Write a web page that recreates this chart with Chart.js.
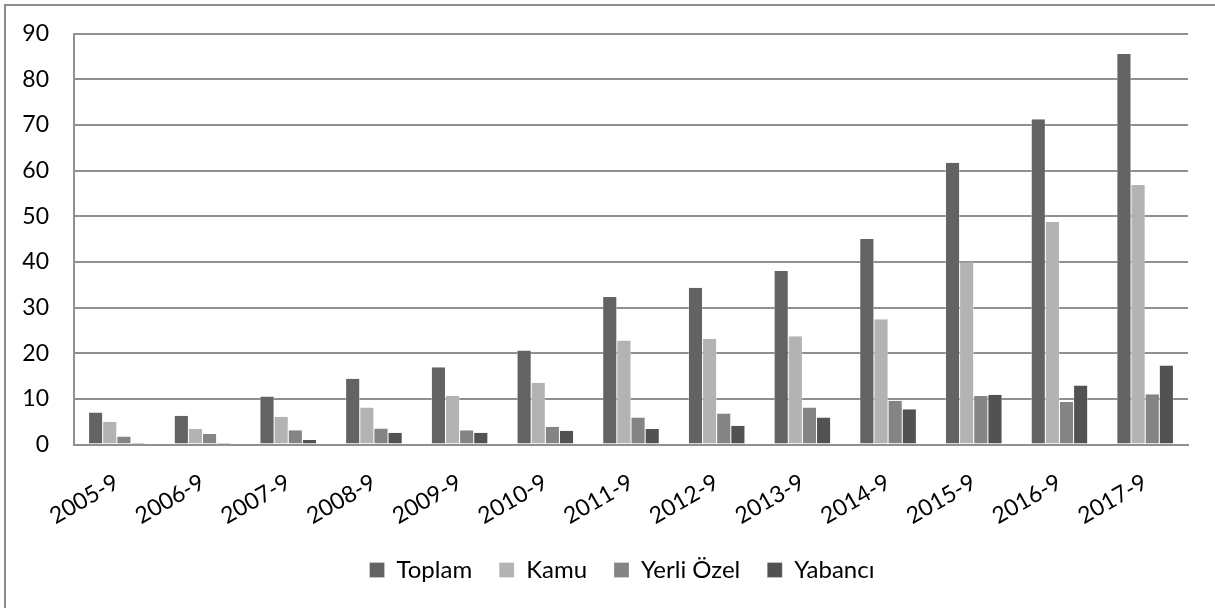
<!DOCTYPE html>
<html>
<head>
<meta charset="utf-8">
<script src="https://cdn.jsdelivr.net/npm/chart.js@4.4.1/dist/chart.umd.min.js"></script>
<style>
  html, body { margin: 0; padding: 0; background: #ffffff; overflow: hidden; }
  #frame {
    position: absolute;
    left: 4px; top: 4px;
    width: 1240px; height: 640px;
    border: 2px solid #8c8c8c;
    box-sizing: border-box;
  }
  #chart { display: block; }
</style>
</head>
<body>
<div id="frame"><canvas id="chart" width="1209" height="602"></canvas></div>
<script>
// Years (September of each year)
const periods = ['2005-9', '2006-9', '2007-9', '2008-9', '2009-9', '2010-9', '2011-9',
  '2012-9', '2013-9', '2014-9', '2015-9', '2016-9', '2017-9'];

const toplam    = [7.0, 6.3, 10.5, 14.4, 16.9, 20.6, 32.3, 34.3, 38.0, 45.0, 61.7, 71.2, 85.5];
const kamu      = [5.0, 3.4, 6.1, 8.1, 10.7, 13.5, 22.8, 23.1, 23.7, 27.4, 39.9, 48.7, 56.8];
const yerliOzel = [1.75, 2.3, 3.1, 3.5, 3.1, 3.9, 5.9, 6.8, 8.1, 9.6, 10.6, 9.3, 11.0];
const yabanci   = [0.1, 0.35, 1.0, 2.6, 2.6, 3.0, 3.4, 4.1, 5.9, 7.7, 10.9, 12.9, 17.3];

const yTicks = [0, 10, 20, 30, 40, 50, 60, 70, 80, 90];

// Grey palette
const colors = {
  toplam: '#636363',
  kamu: '#b3b3b3',
  yerli: '#848484',
  yabanci: '#525252',
  grid: '#909090',
  text: '#000000'
};

const fontFamily = "Lato, 'Open Sans', sans-serif";

function series(label, data, color) {
  return {
    label: label,
    data: data,
    backgroundColor: color,
    borderColor: '#ffffff',
    borderWidth: { left: 0.5, right: 0.5, top: 0, bottom: 0 },
    borderSkipped: false,
    categoryPercentage: 0.66,
    barPercentage: 1.0
  };
}

// nudge the legend a bit to the right, like the original
const legendShift = {
  id: 'legendShift',
  afterLayout(chart) {
    chart.legend.left += 25;
    chart.legend.right += 25;
  }
};

const ctx = document.getElementById('chart');
new Chart(ctx, {
  type: 'bar',
  data: {
    labels: periods,
    datasets: [
      series('Toplam', toplam, colors.toplam),
      series('Kamu', kamu, colors.kamu),
      series('Yerli Özel', yerliOzel, colors.yerli),
      series('Yabancı', yabanci, colors.yabanci)
    ]
  },
  options: {
    responsive: false,
    animation: false,
    layout: {
      padding: { top: 27.5, right: 27, bottom: 16, left: 0 }
    },
    plugins: {
      legend: {
        position: 'bottom',
        labels: {
          color: colors.text,
          boxWidth: 15,
          boxHeight: 15,
          padding: 27,
          font: { family: fontFamily, size: 24 }
        }
      },
      tooltip: { enabled: false }
    },
    scales: {
      x: {
        afterFit: (scale) => {
          scale.height = 86.5;
        },
        grid: { display: false, drawTicks: false },
        border: { display: true, color: colors.grid, width: 2 },
        ticks: {
          color: colors.text,
          minRotation: 30,
          maxRotation: 30,
          padding: 24,
          autoSkip: false,
          font: { family: fontFamily, size: 23 }
        }
      },
      y: {
        min: 0,
        max: 90,
        afterBuildTicks: (scale) => {
          scale.ticks = yTicks.map(v => ({ value: v }));
        },
        afterFit: (scale) => {
          scale.width = 68;
          scale.paddingTop = 0;
          scale.paddingBottom = 0;
        },
        grid: { color: colors.grid, lineWidth: 2, drawTicks: false },
        border: { display: true, color: colors.grid, width: 2 },
        ticks: {
          color: colors.text,
          padding: 25,
          font: { family: fontFamily, size: 23 }
        }
      }
    }
  },
  plugins: [legendShift]
});
</script>
</body>
</html>
